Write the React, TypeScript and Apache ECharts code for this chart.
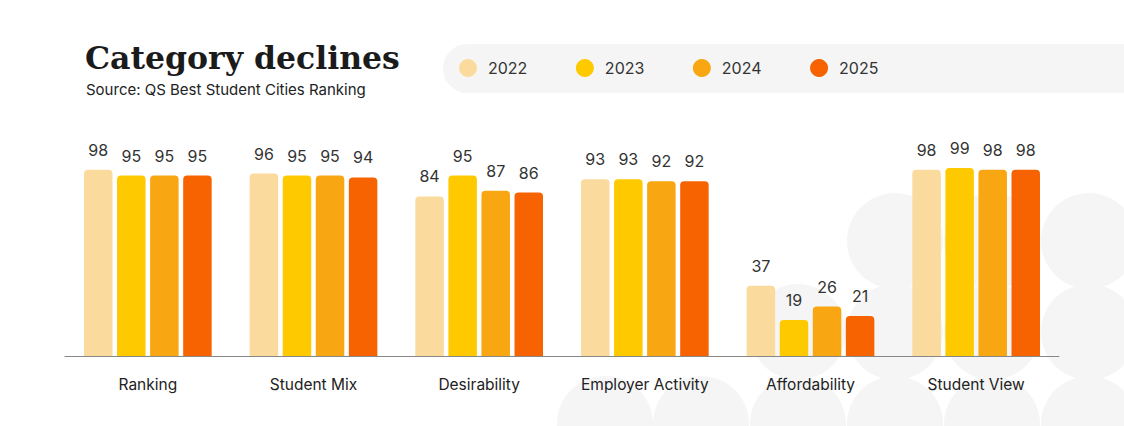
import React, { useEffect, useRef } from "react";
import * as echarts from "echarts";

const categories = ["Ranking", "Student Mix", "Desirability", "Employer Activity", "Affordability", "Student View"];
const years = ["2022", "2023", "2024", "2025"];
const values2022 = [98, 96, 84, 93, 37, 98];
const values2023 = [95, 95, 95, 93, 19, 99];
const values2024 = [95, 95, 87, 92, 26, 98];
const values2025 = [95, 94, 86, 92, 21, 98];
const colors = ["#FBDA9E", "#FFC900", "#F8A712", "#F76300"];

const seriesValues = [values2022, values2023, values2024, values2025];

// decorative background circles (pixel layout)
const circleCols = [605, 701, 798, 895, 992, 1089];
const circleRows = [241, 332, 424];
const circleMask: number[][] = [
  [0, 0, 0, 1, 1, 1],
  [0, 0, 1, 1, 1, 1],
  [1, 1, 1, 1, 1, 1],
];

export default function App() {
  const ref = useRef<HTMLDivElement>(null);
  useEffect(() => {
    document.body.style.margin = "0";
    if (!ref.current) return;
    const chart = echarts.init(ref.current, undefined, { renderer: "svg" });
    const bg: any[] = [];
    circleRows.forEach((cy, ri) => {
      circleCols.forEach((cx, ci) => {
        if (circleMask[ri][ci]) {
          bg.push({
            type: "circle",
            z: -10,
            silent: true,
            shape: { cx, cy, r: 48 },
            style: { fill: "#f5f5f5" },
          });
        }
      });
    });
    bg.push({
      type: "rect",
      z: -10,
      silent: true,
      shape: { x: 443, y: 44, width: 720, height: 49, r: 24.5 },
      style: { fill: "#f5f5f5" },
    });
    bg.push({
      type: "text",
      left: 85,
      top: 41,
      style: {
        text: "Category declines",
        fontFamily: "DejaVu Serif",
        fontWeight: "bold",
        fontSize: 31.5,
        fill: "#1b1b1b",
      },
    });
    bg.push({
      type: "text",
      left: 86,
      top: 82,
      style: {
        text: "Source: QS Best Student Cities Ranking",
        fontFamily: "Inter",
        fontSize: 15,
        fill: "#222",
      },
    });

    chart.setOption({
      animation: false,
      backgroundColor: "#ffffff",
      graphic: bg,
      legend: {
        data: years,
        left: 454,
        top: 54,
        icon: "circle",
        itemWidth: 18,
        itemHeight: 18,
        itemGap: 48.5,
        textStyle: {
          fontFamily: "Inter",
          fontSize: 16,
          color: "#333",
          padding: [0, 0, 0, 6],
        },
      },
      grid: { left: 65, right: 65, top: 166, bottom: 70, containLabel: false },
      xAxis: {
        type: "category",
        data: categories,
        axisLine: { lineStyle: { color: "#888", width: 1 } },
        axisTick: { show: false },
        axisLabel: {
          interval: 0,
          margin: 20,
          fontFamily: "Inter",
          fontSize: 15.5,
          color: "#222",
        },
      },
      yAxis: {
        type: "value",
        min: 0,
        max: 100,
        show: false,
        splitLine: { show: false },
      },
      series: years.map((y, i) => ({
        name: y,
        type: "bar",
        data: seriesValues[i],
        barWidth: 28.5,
        barGap: "16%",
        itemStyle: { color: colors[i], borderRadius: [4, 4, 0, 0] },
        label: {
          show: true,
          position: "top",
          distance: 12,
          fontFamily: "Inter",
          fontSize: 16,
          color: "#333",
        },
      })),
    });
    return () => chart.dispose();
  }, []);
  return <div ref={ref} style={{ width: 1124, height: 426 }} />;
}
